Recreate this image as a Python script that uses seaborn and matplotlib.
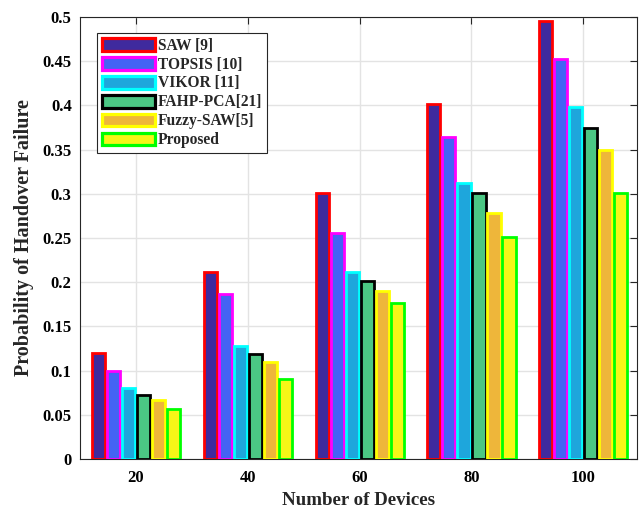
import numpy as np
import pandas as pd
import matplotlib
matplotlib.use("Agg")
import matplotlib.pyplot as plt
from matplotlib.patches import Patch
import seaborn as sns

devices = ["20", "40", "60", "80", "100"]
methods = ["SAW [9]", "TOPSIS [10]", "VIKOR [11]", "FAHP-PCA[21]",
           "Fuzzy-SAW[5]", "Proposed"]
saw      = [0.120, 0.212, 0.301, 0.402, 0.496]
topsis   = [0.100, 0.187, 0.256, 0.364, 0.453]
vikor    = [0.080, 0.128, 0.212, 0.312, 0.398]
fahp_pca = [0.072, 0.119, 0.201, 0.301, 0.374]
fuzzy    = [0.067, 0.110, 0.190, 0.278, 0.350]
proposed = [0.057, 0.091, 0.176, 0.251, 0.301]

face = ["#3F2A9E", "#4463F4", "#1EA6DC", "#4BC784", "#EEB63A", "#F6F617"]
edge = ["#FF0000", "#FF00FF", "#00FFFF", "#000000", "#FFFF00", "#00FF00"]

series = [saw, topsis, vikor, fahp_pca, fuzzy, proposed]
df = pd.DataFrame([(d, m, v) for m, vals in zip(methods, series)
                   for d, v in zip(devices, vals)],
                  columns=["devices", "method", "value"])

sns.set_style("white")
plt.rcParams["font.family"] = ["Liberation Serif", "DejaVu Serif"]
plt.rcParams["font.weight"] = "bold"

fig = plt.figure(figsize=(6.43, 5.09), dpi=100)
ax = fig.add_axes([0.1244, 0.0982, 0.8663, 0.8684])

sns.barplot(data=df, x="devices", y="value", hue="method", order=devices,
            hue_order=methods, palette=face, width=0.805, saturation=1,
            legend=False, ax=ax, zorder=3)
# thin the bars a little so the thick outlines sit side by side
for cont, ec in zip(ax.containers, edge):
    for bar in cont:
        w = bar.get_width()
        bar.set_x(bar.get_x() + w * 0.065)
        bar.set_width(w * 0.87)
        bar.set_edgecolor(ec)
        bar.set_linewidth(2.0)

ax.set_xlim(-0.5, 4.48)
ax.set_ylim(0, 0.5)
yt = np.arange(0, 0.501, 0.05)
ax.set_yticks(yt)
ax.set_yticklabels([f"{v:g}" for v in np.round(yt, 2)])
ax.grid(True, color="#E3E3E3", linewidth=1, zorder=0)
ax.set_axisbelow(True)
ax.tick_params(direction="in", top=True, right=True, length=5,
               width=0.8, colors="#262626", labelsize=12)
ax.tick_params(axis="x", pad=8)
ax.tick_params(axis="y", pad=6)
for lab in ax.get_xticklabels() + ax.get_yticklabels():
    lab.set_fontweight("bold")
    lab.set_color("black")
for s in ax.spines.values():
    s.set_color("#262626")
    s.set_linewidth(0.8)

ax.set_xlabel("Number of Devices", fontsize=13.6, fontweight="bold",
              labelpad=4)
ax.set_ylabel("Probability of Handover Failure", fontsize=14.5,
              fontweight="bold", labelpad=6)

handles = [Patch(facecolor=f, edgecolor=e, linewidth=2.3, label=m)
           for f, e, m in zip(face, edge, methods)]
leg = ax.legend(handles=handles, loc="upper left",
                bbox_to_anchor=(0.0305, 0.964),
                fontsize=11.2, handlelength=3.4, handleheight=0.9,
                labelspacing=0.19, handletextpad=0.2, borderpad=0.3,
                borderaxespad=0, fancybox=False, framealpha=1,
                edgecolor="#262626")
leg.get_frame().set_linewidth(0.8)
for t in leg.get_texts():
    t.set_fontweight("bold")

fig.savefig("out.png", dpi=100)
